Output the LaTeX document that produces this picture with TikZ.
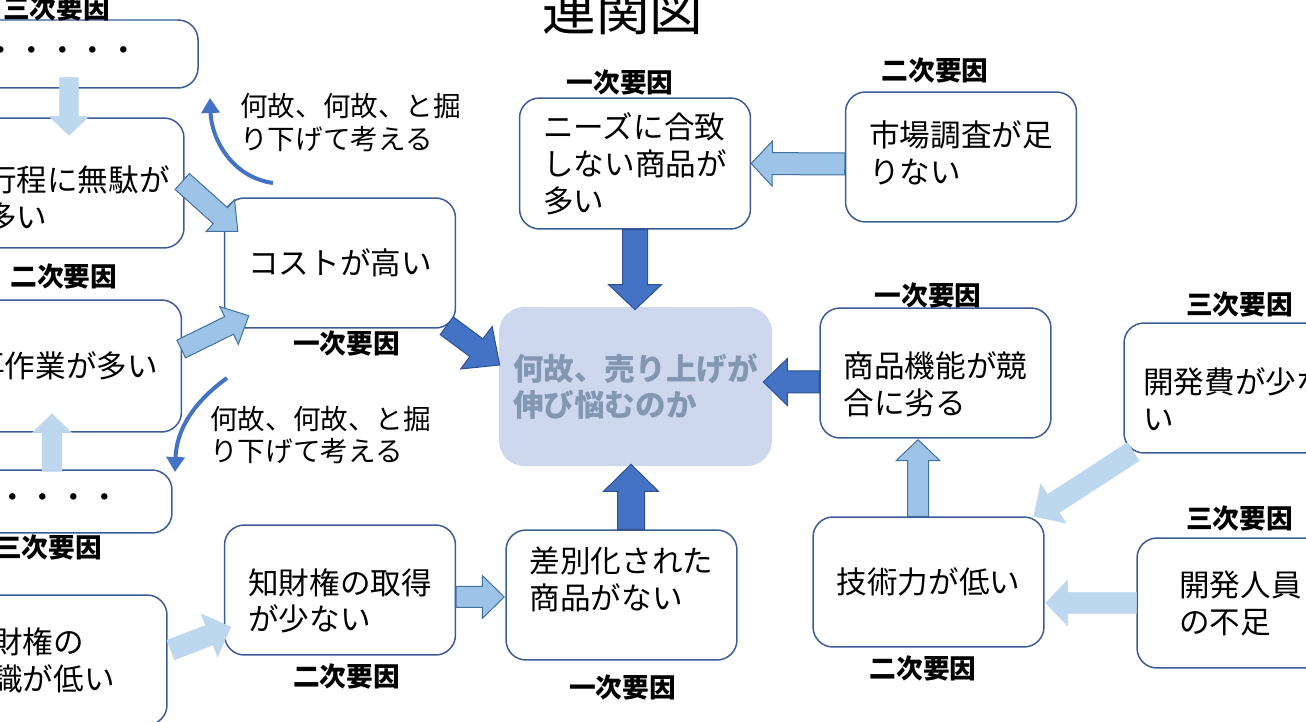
\documentclass[tikz,border=0pt]{standalone}
\usepackage{fontspec}
\setmainfont{Noto Sans CJK JP}
\usepackage{xcolor}
\usepackage{tikz}
\usetikzlibrary{calc,arrows.meta}

\definecolor{boxline}{RGB}{59,92,148}
\definecolor{darkfill}{RGB}{68,114,196}
\definecolor{darkline}{RGB}{47,82,143}
\definecolor{midfill}{RGB}{157,195,230}
\definecolor{midline}{RGB}{65,113,156}
\definecolor{lightfill}{RGB}{189,215,238}
\definecolor{goalfill}{RGB}{205,216,238}
\definecolor{goaltext}{RGB}{132,151,176}
\definecolor{curveblue}{RGB}{68,114,196}

\tikzset{bshaft/.store in=\bshaft, bheadw/.store in=\bheadw, bheadl/.store in=\bheadl,
         bshaft=0.2cm, bheadw=0.4cm, bheadl=0.4cm}

\newcommand{\blockarrow}[3][]{%
  \begin{scope}[#1]
    \coordinate (ba-s) at (#2);
    \coordinate (ba-e) at (#3);
    \coordinate (ba-h) at ($(ba-e)!\bheadl!(ba-s)$);
    \filldraw ($(ba-s)!\bshaft!90:(ba-e)$) -- ($(ba-h)!\bshaft!90:(ba-e)$)
      -- ($(ba-h)!\bheadw!90:(ba-e)$) -- (ba-e)
      -- ($(ba-h)!\bheadw!-90:(ba-e)$) -- ($(ba-h)!\bshaft!-90:(ba-e)$)
      -- ($(ba-s)!\bshaft!-90:(ba-e)$) -- cycle;
  \end{scope}}

\begin{document}
\begin{tikzpicture}
                [x=0.02cm, y=0.02cm,
                 box/.style = {draw=boxline, line width=0.03cm, fill=white, rounded corners=0.4cm,
                               align=left, inner sep=0pt, minimum width=4.62cm, minimum height=2.6cm,
                               font=\fontsize{17.4}{21}\selectfont},
                 goalbox/.style = {fill=goalfill, rounded corners=0.5cm, align=left, inner sep=0pt,
                               minimum width=5.46cm, minimum height=3.18cm, text=goaltext,
                               font=\fontsize{17.4}{21}\selectfont\bfseries},
                 tag/.style = {inner sep=0pt, font=\fontsize{15.2}{18}\selectfont\bfseries},
                 note/.style = {inner sep=0pt, align=left, anchor=west, font=\fontsize{15.7}{18.7}\selectfont},
                 title/.style = {inner sep=0pt, anchor=south, font=\fontsize{30.5}{36}\selectfont},
                 whyarrow/.style = {draw=curveblue, line width=0.08cm, -{Triangle[length=0.3cm,width=0.36cm]}},
                 darkarr/.style = {fill=darkfill, draw=darkline, line width=0.02cm},
                 midarr/.style = {fill=midfill, draw=midline, line width=0.02cm},
                 lightarr/.style = {fill=lightfill, draw=lightfill, line width=0.01cm}]

    \useasboundingbox (0,0) rectangle (1306,-722);
    \clip (0,0) rectangle (1306,-722);

    \node[title] (title) at (623,-35) {連関図};

    \node[box, minimum width=5.43cm, minimum height=1.36cm] (dotsa) at (62.3,-54) {・・・・・};
    \node[box, minimum width=4.24cm, text height=53.6pt] (proc) at (78,-183) {行程に無駄が\\多い};
    \node[box] (cost) at (340,-263) {コストが高い};
    \node[box, minimum height=2.64cm] (redo) at (66,-366) {再作業が多い};
    \node[box, minimum width=5.15cm, minimum height=1.26cm] (dotsb) at (43.25,-501.5) {・・・・・};
    \node[box, minimum width=5.15cm] (aware) at (38.25,-660) {知財権の\\意識が低い};
    \node[box, text height=48pt] (acquire) at (340,-590) {知財権の取得\\が少ない};
    \node[box, text depth=19pt] (diff) at (621.5,-595) {差別化された\\商品がない};
    \node[goalbox] (goal) at (635.5,-386.5) {何故、売り上げが\\伸び悩むのか};
    \node[box, minimum height=2.62cm] (needs) at (635,-163.5) {ニーズに合致\\しない商品が\\多い};
    \node[box, text depth=6pt] (market) at (961,-157) {市場調査が足\\りない};
    \node[box, text height=49pt] (func) at (935.5,-373) {商品機能が競\\合に劣る};
    \node[box] (tech) at (928.5,-582) {技術力が低い};
    \node[box, minimum width=4.44cm, text height=48pt] (budget) at (1235,-388) {開発費が少な\\い};
    \node[box, minimum width=4.14cm] (staff) at (1240.5,-603) {開発人員\\の不足};

    \node[tag] (lbdotsa) at (56.5,-8.5) {三次要因};
    \node[tag] (lbredo) at (64,-276) {二次要因};
    \node[tag] (lbdotsb) at (48.5,-547.5) {三次要因};
    \node[tag] (lbcost) at (346.5,-343.5) {一次要因};
    \node[tag] (lbacquire) at (346.5,-676) {二次要因};
    \node[tag] (lbdiff) at (622.5,-687.5) {一次要因};
    \node[tag] (lbneeds) at (620,-82) {一次要因};
    \node[tag] (lbmarket) at (935,-70.5) {二次要因};
    \node[tag] (lbfunc) at (928,-295.5) {一次要因};
    \node[tag] (lbbudget) at (1239.5,-304.5) {三次要因};
    \node[tag] (lbstaff) at (1239.5,-518.5) {三次要因};
    \node[tag] (lbtech) at (923,-668.5) {二次要因};

    \blockarrow[lightarr, bshaft=0.19cm, bheadw=0.4cm, bheadl=0.38cm]{$(dotsa.south)+(6.7,11)$}{$(proc.north)+(-9,-18)$}
    \blockarrow[midarr, bshaft=0.214cm, bheadw=0.426cm, bheadl=0.468cm]{$(proc.east)+(-2.5,1.5)$}{$(cost.north west)+(14,-34)$}
    \blockarrow[midarr, bshaft=0.197cm, bheadw=0.42cm, bheadl=0.44cm]{$(redo.east)+(-1,17)$}{$(cost.south west)+(25,13)$}
    \blockarrow[lightarr, bshaft=0.2cm, bheadw=0.39cm, bheadl=0.38cm]{$(dotsb.north)+(8.75,-2)$}{$(redo.south)+(-14,19)$}
    \blockarrow[lightarr, bshaft=0.21cm, bheadw=0.46cm, bheadl=0.46cm]{$(aware.east)+(3,10)$}{$(acquire.west)+(7,-37)$}
    \blockarrow[midarr, bshaft=0.21cm, bheadw=0.43cm, bheadl=0.44cm]{$(acquire.east)+(0,-7)$}{$(diff.west)+(-1,-2)$}
    \blockarrow[darkarr, bshaft=0.22cm, bheadw=0.53cm, bheadl=0.58cm]{$(cost.south east)+(-9.5,3)$}{$(goal.west)+(1,21.5)$}
    \blockarrow[darkarr, bshaft=0.25cm, bheadw=0.53cm, bheadl=0.5cm]{needs.south}{$(goal.north)+(-0.5,-3)$}
    \blockarrow[darkarr, bshaft=0.27cm, bheadw=0.55cm, bheadl=0.54cm]{$(diff.north)+(9.5,0)$}{$(goal.south)+(-4.5,2)$}
    \blockarrow[darkarr, bshaft=0.22cm, bheadw=0.47cm, bheadl=0.48cm]{$(func.west)+(0,-9)$}{$(goal.east)+(-9,4.5)$}
    \blockarrow[midarr, bshaft=0.22cm, bheadw=0.45cm, bheadl=0.42cm]{$(market.west)+(0,-7)$}{needs.east}
    \blockarrow[midarr, bshaft=0.21cm, bheadw=0.44cm, bheadl=0.42cm]{$(tech.north)+(-10.5,0)$}{$(func.south)+(-17.5,-1)$}
    \blockarrow[lightarr, bshaft=0.216cm, bheadw=0.466cm, bheadl=0.468cm]{$(budget.south west)+(10,2)$}{$(tech.north east)+(-11,0)$}
    \blockarrow[lightarr, bshaft=0.21cm, bheadw=0.46cm, bheadl=0.44cm]{staff.west}{$(tech.east)+(1,-21)$}

    \coordinate (upa) at (273,-183);
    \coordinate (upb) at (210,-98);
    \coordinate (dna) at (227,-378);
    \coordinate (dnb) at (175,-472);
    \draw[whyarrow] (upa) to[out=172, in=-88] (upb);
    \draw[whyarrow] (dna) to[out=216, in=88] (dnb);
    \node[note] (upnote) at (240,-122.5) {何故、何故、と掘\\り下げて考える};
    \node[note] (dnnote) at (210,-435) {何故、何故、と掘\\り下げて考える};
\end{tikzpicture}
\end{document}
